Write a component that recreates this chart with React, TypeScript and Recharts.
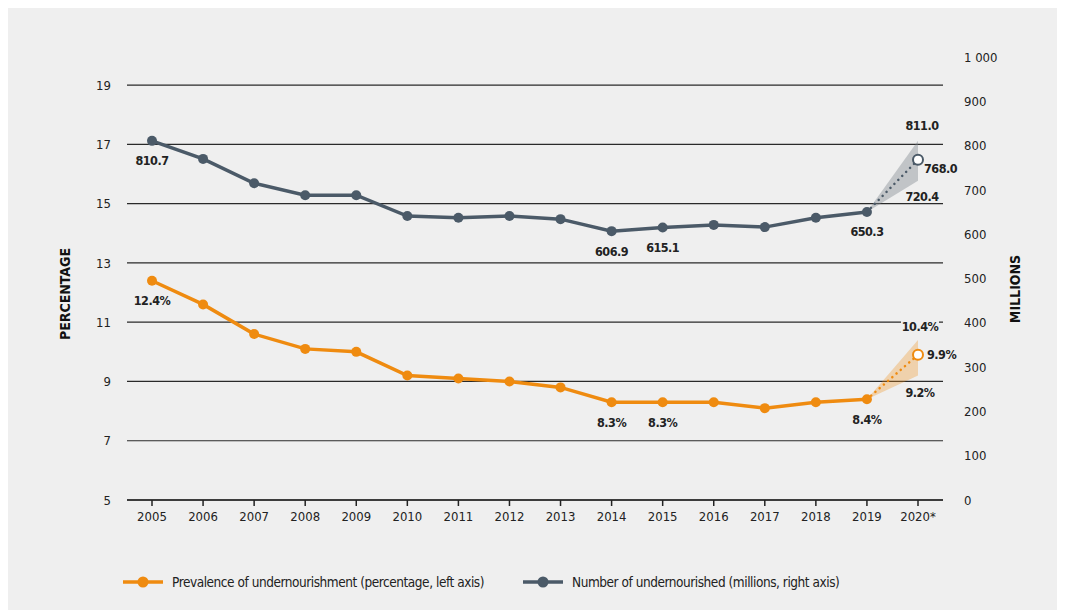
import React from "react";
import {
  ComposedChart,
  Line,
  Area,
  XAxis,
  YAxis,
  CartesianGrid,
  Legend,
} from "recharts";

const years = [
  "2005", "2006", "2007", "2008", "2009", "2010", "2011", "2012",
  "2013", "2014", "2015", "2016", "2017", "2018", "2019", "2020*",
];

// prevalence of undernourishment (%), left axis
const prevalence = [12.4, 11.6, 10.6, 10.1, 10.0, 9.2, 9.1, 9.0, 8.8, 8.3, 8.3, 8.3, 8.1, 8.3, 8.4, null];
// number of undernourished (millions), right axis
const undernourished = [810.7, 770, 715, 688, 688, 641, 637, 641, 634, 606.9, 615.1, 621, 616, 637, 650.3, null];

// 2020 projections and their ranges
const prevalenceProjection = 9.9;
const prevalenceRange = [9.2, 10.4];
const numberProjection = 768.0;
const numberRange = [720.4, 811.0];

const labeledYears = ["2005", "2014", "2015", "2019"];

const leftTicks = [5, 7, 9, 11, 13, 15, 17, 19];
const rightTicks = [0, 100, 200, 300, 400, 500, 600, 700, 800, 900, 1000];

const ORANGE = "#ef8b10";
const SLATE = "#4b5a68";
const BG = "#efefef";
const FONT = "'DejaVu Sans Condensed', 'Liberation Sans Narrow', sans-serif";

const last = years.length - 1;
const prev = last - 1;

const data = years.map((year, i) => ({
  year,
  pou: prevalence[i],
  num: undernourished[i],
  pouProj: i === prev ? prevalence[prev] : i === last ? prevalenceProjection : null,
  numProj: i === prev ? undernourished[prev] : i === last ? numberProjection : null,
  pouBand: i === prev ? [prevalence[prev], prevalence[prev]] : i === last ? prevalenceRange : null,
  numBand: i === prev ? [undernourished[prev], undernourished[prev]] : i === last ? numberRange : null,
  pouHi: i === last ? prevalenceRange[1] : null,
  pouLo: i === last ? prevalenceRange[0] : null,
  numHi: i === last ? numberRange[1] : null,
  numLo: i === last ? numberRange[0] : null,
}));

const labelStyle = { fontFamily: FONT, fontSize: 12.5, fontWeight: 700, fill: "#222", letterSpacing: -0.5 };

const makeLabel = (fmt: (v: number) => string, dx: number, dy: number, anchor = "middle", onlyLabeled = true, box = false) =>
  (props: any) => {
    const { x, y, index, value } = props;
    if (value == null) return null;
    if (onlyLabeled && !labeledYears.includes(years[index])) return null;
    const text = fmt(value);
    return (
      <g key={`lbl-${index}-${dx}-${dy}`}>
        {box && <rect x={x + dx - 19} y={y + dy - 9} width={38} height={17} fill={BG} />}
        <text x={x + dx} y={y + dy} textAnchor={anchor} dominantBaseline="central" style={labelStyle}>
          {text}
        </text>
      </g>
    );
  };

const openDot = (color: string) => (props: any) => {
  const { cx, cy, index } = props;
  if (index !== last) return <g key={`d-${index}`} />;
  return <circle key={`d-${index}`} cx={cx} cy={cy} r={5} fill="#fff" stroke={color} strokeWidth={2} />;
};

const LegendContent = () => (
  <div style={{ position: "relative", height: 80, fontFamily: FONT, fontSize: 13.5, letterSpacing: -0.45, color: "#222" }}>
    {[
      { left: 114, color: ORANGE, text: "Prevalence of undernourishment (percentage, left axis)" },
      { left: 514, color: SLATE, text: "Number of undernourished (millions, right axis)" },
    ].map((item) => (
      <div key={item.text} style={{ position: "absolute", left: item.left, top: 44, display: "flex", alignItems: "center" }}>
        <svg width={42} height={14}>
          <line x1={1} y1={7} x2={41} y2={7} stroke={item.color} strokeWidth={3.5} />
          <circle cx={21} cy={7} r={5.5} fill={item.color} />
        </svg>
        <span style={{ marginLeft: 8 }}>{item.text}</span>
      </div>
    ))}
  </div>
);

const tickStyle = { fontFamily: FONT, fontSize: 13, fill: "#222" };
const titleStyle = { fontFamily: FONT, fontSize: 14, fontWeight: 700, fill: "#111" };

export default function App() {
  return (
    <div style={{ width: 1057, height: 602, background: BG }}>
      <ComposedChart width={1057} height={602} data={data} margin={{ top: 49, right: 0, bottom: 0, left: 0 }}>
        <CartesianGrid yAxisId="left" vertical={false} stroke="#2a2a2a" strokeWidth={1.2} horizontalValues={leftTicks} />
        <XAxis
          dataKey="year"
          padding={{ left: 25, right: 25 }}
          height={30}
          tick={tickStyle}
          tickSize={6}
          tickMargin={6}
          axisLine={{ stroke: "#222", strokeWidth: 1.5 }}
          tickLine={{ stroke: "#222", strokeWidth: 1.5 }}
          interval={0}
        />
        <YAxis
          yAxisId="left"
          width={119}
          domain={[5, 19.95]}
          ticks={leftTicks}
          tick={tickStyle}
          axisLine={false}
          tickLine={false}
          tickMargin={10}
          label={() => (
            <text x={57} y={286} transform="rotate(-90, 57, 286)" textAnchor="middle" dominantBaseline="central" style={titleStyle}>
              PERCENTAGE
            </text>
          )}
        />
        <YAxis
          yAxisId="right"
          orientation="right"
          width={122}
          domain={[0, 1000]}
          ticks={rightTicks}
          tick={tickStyle}
          tickFormatter={(v: number) => (v === 1000 ? "1 000" : String(v))}
          axisLine={false}
          tickLine={false}
          tickMargin={15}
          label={() => (
            <text x={1007} y={281} transform="rotate(-90, 1007, 281)" textAnchor="middle" dominantBaseline="central" style={titleStyle}>
              MILLIONS
            </text>
          )}
        />
        <Legend verticalAlign="bottom" align="left" content={<LegendContent />} wrapperStyle={{ left: 0, width: 1057 }} />

        <Area yAxisId="left" dataKey="pouBand" stroke="none" fill={ORANGE} fillOpacity={0.3} isAnimationActive={false} />
        <Area yAxisId="right" dataKey="numBand" stroke="none" fill="#7d848c" fillOpacity={0.4} isAnimationActive={false} />

        <Line yAxisId="left" dataKey="pouHi" stroke="none" dot={false} isAnimationActive={false}
          label={makeLabel((v) => `${v.toFixed(1)}%`, 2, -13, "middle", false, true)} />
        <Line yAxisId="left" dataKey="pouLo" stroke="none" dot={false} isAnimationActive={false}
          label={makeLabel((v) => `${v.toFixed(1)}%`, 2, 17, "middle", false)} />
        <Line yAxisId="right" dataKey="numHi" stroke="none" dot={false} isAnimationActive={false}
          label={makeLabel((v) => v.toFixed(1), 4, -15, "middle", false)} />
        <Line yAxisId="right" dataKey="numLo" stroke="none" dot={false} isAnimationActive={false}
          label={makeLabel((v) => v.toFixed(1), 4, 16, "middle", false)} />

        <Line yAxisId="left" dataKey="pouProj" stroke={ORANGE} strokeWidth={2.5} strokeDasharray="0.1 5.5" strokeLinecap="round"
          dot={openDot(ORANGE)} activeDot={false} isAnimationActive={false}
          label={(p: any) => (p.index === last ? makeLabel((v) => `${v.toFixed(1)}%`, 9, 0, "start", false)(p) : null)} />
        <Line yAxisId="right" dataKey="numProj" stroke={SLATE} strokeWidth={2.5} strokeDasharray="0.1 5.5" strokeLinecap="round"
          dot={openDot(SLATE)} activeDot={false} isAnimationActive={false}
          label={(p: any) => (p.index === last ? makeLabel((v) => v.toFixed(1), 6, 9, "start", false)(p) : null)} />

        <Line yAxisId="left" dataKey="pou" stroke={ORANGE} strokeWidth={3.5}
          dot={{ r: 5, fill: ORANGE, stroke: ORANGE, strokeWidth: 0 }} activeDot={false} isAnimationActive={false}
          label={makeLabel((v) => `${v.toFixed(1)}%`, 0, 20)} />
        <Line yAxisId="right" dataKey="num" stroke={SLATE} strokeWidth={3.5}
          dot={{ r: 5, fill: SLATE, stroke: SLATE, strokeWidth: 0 }} activeDot={false} isAnimationActive={false}
          label={makeLabel((v) => v.toFixed(1), 0, 20)} />
      </ComposedChart>
    </div>
  );
}
